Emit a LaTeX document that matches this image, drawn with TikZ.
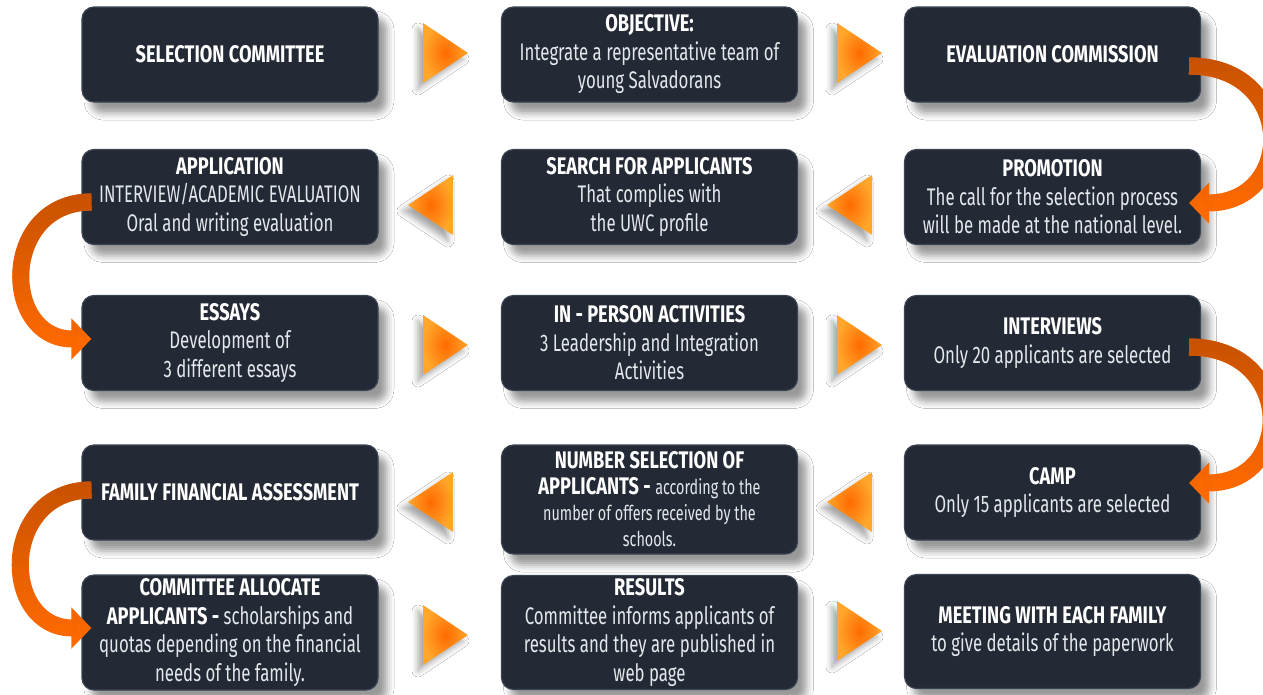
\documentclass[tikz,border=0pt]{standalone}
\usepackage{fontspec}
\setmainfont{Fira Sans}[FakeStretch=0.70]
\newfontfamily\hdfont{Fira Sans}[FakeStretch=0.76]
\usepackage{tikz}
\usetikzlibrary{calc,arrows.meta,shadows.blur,fadings}

\definecolor{boxnavy}{HTML}{232A35}
\definecolor{boxedge}{HTML}{3B4452}
\definecolor{bodytext}{HTML}{E4E7EB}
\definecolor{orangedark}{HTML}{C85200}
\definecolor{orangebright}{HTML}{FF6A00}
\definecolor{trilight}{HTML}{FFA62B}
\definecolor{trimid}{HTML}{FF6A00}

\tikzfading[name=fade down, top color=transparent!0, middle color=transparent!25, bottom color=transparent!100]

\newcommand{\hd}[1]{{\hdfont\bfseries\color{white}#1}}
\newcommand{\sm}[1]{{\fontsize{20.5}{26}\selectfont #1}}

\begin{document}
\begin{tikzpicture}[x=1pt,y=-1pt,
  stage/.style={rectangle, rounded corners=12pt, fill=boxnavy, draw=boxedge, line width=1.2pt,
    text=bodytext, align=center, minimum width=296pt, minimum height=95pt, inner sep=0pt,
    font=\fontsize{24}{28.5}\selectfont,
    blur shadow={shadow xshift=9pt, shadow yshift=-11pt, shadow blur radius=7pt, shadow opacity=40}},
  curvy/.style={line width=17pt, -{Triangle[width=40pt,length=20pt]}},
  tri/.style={inner color=trimid, outer color=trilight,
    blur shadow={shadow xshift=-5pt, shadow yshift=-6pt, shadow blur radius=6pt, shadow opacity=35}}]

\useasboundingbox (0,0) rectangle (1263,694);
\clip (0,0) rectangle (1263,694);
\fill[white] (0,0) rectangle (1263,694);

% Row 1
\node[stage] (sel) at (230,54.5) {\hd{SELECTION COMMITTEE}};
\node[stage] (obj) at (649.5,54.5) {\hd{OBJECTIVE:}\\Integrate a representative team of\\young Salvadorans};
\node[stage] (evalc) at (1052.5,54.5) {\hd{EVALUATION COMMISSION}};

% Row 2
\node[stage] (appl) at (230,197) {\hd{APPLICATION}\\INTERVIEW/ACADEMIC EVALUATION\\Oral and writing evaluation};
\node[stage] (search) at (649.5,197) {\hd{SEARCH FOR APPLICANTS}\\That complies with\\the UWC profile};
\node[stage] (promo) at (1052.5,197) {\hd{PROMOTION}\\The call for the selection process\\will be made at the national level.};

% Row 3
\node[stage] (essays) at (230,343) {\hd{ESSAYS}\\Development of\\3 different essays};
\node[stage] (inperson) at (649.5,343) {\hd{IN - PERSON ACTIVITIES}\\3 Leadership and Integration\\Activities};
\node[stage] (interv) at (1052.5,343) {\hd{INTERVIEWS}\\Only 20 applicants are selected};

% Row 4
\node[stage] (family) at (230,492.5) {\hd{FAMILY FINANCIAL ASSESSMENT}};
\node[stage, minimum height=109pt, font=\fontsize{24}{26}\selectfont] (numsel) at (649.5,499.5)
  {\hd{NUMBER SELECTION OF}\\\hd{APPLICANTS -} \sm{according to the}\\\sm{number of offers received by the}\\\sm{schools.}};
\node[stage] (camp) at (1052.5,492.5) {\hd{CAMP}\\Only 15 applicants are selected};

% Row 5
\node[stage, minimum height=115pt] (allocate) at (230,632.5)
  {\hd{COMMITTEE ALLOCATE}\\\hd{APPLICANTS -} scholarships and\\quotas depending on the financial\\needs of the family.};
\node[stage, minimum height=114pt] (results) at (649.5,632.5)
  {\hd{RESULTS}\\Committee informs applicants of\\results and they are published in\\web page};
\node[stage, minimum height=114pt] (meeting) at (1052.5,631.5)
  {\hd{MEETING WITH EACH FAMILY}\\to give details of the paperwork};

% Triangles between the boxes
\foreach \bx/\cy/\d in {423/53/1, 837/53/1, 453/205/-1, 872/205/-1, 423/345/1, 837/345/1,
                        453/502/-1, 872/502/-1, 423/635/1, 837/631/1}
  \shade[tri] (\bx,\cy-30) -- (\bx+\d*45,\cy) -- (\bx,\cy+30) -- cycle;

% Curved arrows at the row ends
\draw[curvy,orangebright] ($(evalc.east)+(-12,11.5)$) to[out=0,in=0,looseness=2] ($(promo.east)+(-12,6)$);
\draw[curvy,orangedark,path fading=fade down] ($(evalc.east)+(-12,11.5)$) to[out=0,in=0,looseness=2] ($(promo.east)+(-12,6)$);
\draw[curvy,orangebright] ($(appl.west)+(10,5)$) to[out=180,in=180,looseness=1.7] ($(essays.west)+(10,-4)$);
\draw[curvy,orangedark,path fading=fade down] ($(appl.west)+(10,5)$) to[out=180,in=180,looseness=1.7] ($(essays.west)+(10,-4)$);
\draw[curvy,orangebright] ($(interv.east)+(-12,4)$) to[out=0,in=0,looseness=2] ($(camp.east)+(-12,-9.5)$);
\draw[curvy,orangedark,path fading=fade down] ($(interv.east)+(-12,4)$) to[out=0,in=0,looseness=2] ($(camp.east)+(-12,-9.5)$);
\draw[curvy,orangebright] ($(family.west)+(10,-2.5)$) to[out=180,in=180,looseness=1.7] ($(allocate.west)+(10,-4.5)$);
\draw[curvy,orangedark,path fading=fade down] ($(family.west)+(10,-2.5)$) to[out=180,in=180,looseness=1.7] ($(allocate.west)+(10,-4.5)$);
\end{tikzpicture}
\end{document}
